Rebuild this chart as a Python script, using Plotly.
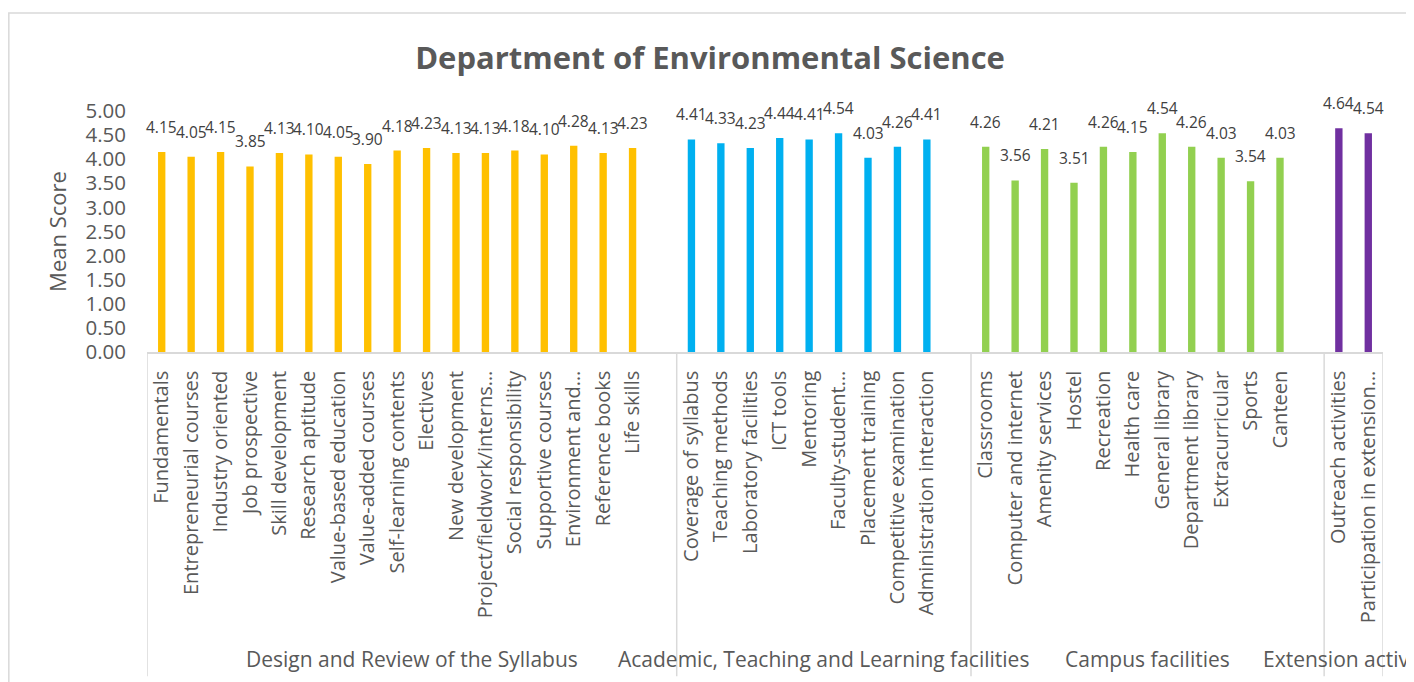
import plotly.graph_objects as go

# ---- data ----
groups = [
    "Design and Review of the Syllabus",
    "Academic, Teaching and Learning facilities",
    "Campus facilities",
    "Extension activities",
]
syllabus_items = [
    "Fundamentals", "Entrepreneurial courses", "Industry oriented", "Job prospective",
    "Skill development", "Research aptitude", "Value-based education", "Value-added courses",
    "Self-learning contents", "Electives", "New development", "Project/fieldwork/interns…",
    "Social responsibility", "Supportive courses", "Environment and…", "Reference books",
    "Life skills",
]
syllabus_scores = [4.15, 4.05, 4.15, 3.85, 4.13, 4.10, 4.05, 3.90, 4.18, 4.23, 4.13, 4.13,
                   4.18, 4.10, 4.28, 4.13, 4.23]
academic_items = [
    "Coverage of syllabus", "Teaching methods", "Laboratory facilities", "ICT tools",
    "Mentoring", "Faculty-student…", "Placement training", "Competitive examination",
    "Administration interaction",
]
academic_scores = [4.41, 4.33, 4.23, 4.44, 4.41, 4.54, 4.03, 4.26, 4.41]
campus_items = [
    "Classrooms", "Computer and internet", "Amenity services", "Hostel", "Recreation",
    "Health care", "General library", "Department library", "Extracurricular", "Sports",
    "Canteen",
]
campus_scores = [4.26, 3.56, 4.21, 3.51, 4.26, 4.15, 4.54, 4.26, 4.03, 3.54, 4.03]
extension_items = ["Outreach activities", "Participation in extension…"]
extension_scores = [4.64, 4.54]
y_ticks = [0, 0.5, 1.0, 1.5, 2.0, 2.5, 3.0, 3.5, 4.0, 4.5, 5.0]

colors = ["#FFC000", "#00B0F0", "#92D050", "#7030A0"]
group_items = [syllabus_items, academic_items, campus_items, extension_items]
group_scores = [syllabus_scores, academic_scores, campus_scores, extension_scores]

# category order with one empty slot after each of the first three groups
category_order = []
for gi, items in enumerate(group_items):
    category_order += items
    if gi < len(group_items) - 1:
        category_order.append(" " * (gi + 1))

FONT = "Open Sans"
TXT = "#595959"

fig = go.Figure()
for items, scores, col, name in zip(group_items, group_scores, colors, groups):
    fig.add_trace(go.Bar(x=items, y=scores, marker=dict(color=col, line=dict(width=0)),
                         width=0.25, name=name, showlegend=False))

annotations = []
for items, scores in zip(group_items, group_scores):
    for c, v in zip(items, scores):
        annotations.append(dict(x=c, y=v, xref="x", yref="y", text=f"{v:.2f}",
                                showarrow=False, yanchor="bottom", yshift=12,
                                font=dict(family=FONT, size=15.5, color="#404040")))

# group boundaries (category index positions) and label positions
bounds = []
pos = -0.5
centers = []
for gi, items in enumerate(group_items):
    start = pos
    pos += len(items) + (1 if gi < len(group_items) - 1 else 0)
    bounds.append(start)
    centers.append((start + pos) / 2)
bounds.append(pos)

shapes = []
for b in bounds:
    shapes.append(dict(type="line", xref="x", yref="paper", x0=b, x1=b, y0=0, y1=-1.345,
                       line=dict(color="#D9D9D9", width=1.5)))
# outer chart frame
shapes.append(dict(type="rect", xref="paper", yref="paper", x0=-0.1118, x1=1.0235,
                   y0=-1.6, y1=1.407, line=dict(color="#D9D9D9", width=1.5),
                   fillcolor="rgba(0,0,0,0)", layer="below"))

for gi, (g, cx) in enumerate(zip(groups, centers)):
    annotations.append(dict(x=cx, y=-1.272, xref="x", yref="paper", text=g,
                            showarrow=False, xanchor="center", yanchor="middle",
                            xshift=(2 if gi == 3 else 0),
                            font=dict(family=FONT, size=21, color=TXT)))

fig.update_layout(
    width=1414, height=682,
    margin=dict(l=139, r=39, t=103, b=338),
    paper_bgcolor="white", plot_bgcolor="white",
    barmode="overlay",
    title=dict(text="<b>Department of Environmental Science</b>", x=0.4965, xref="container",
               y=1 - 50 / 682, yref="container", xanchor="center", yanchor="middle",
               font=dict(family=FONT, size=31, color=TXT)),
    xaxis=dict(type="category", categoryorder="array", categoryarray=category_order,
               range=[-0.5, len(category_order) - 0.5],
               tickangle=-90, tickfont=dict(family=FONT, size=20, color=TXT),
               showline=True, linecolor="#D9D9D9", linewidth=1.5, ticks="",
               showgrid=False, ticklabelstandoff=9),
    yaxis=dict(range=[0, 5], tickvals=y_ticks, tickformat=".2f",
               tickfont=dict(family=FONT, size=20.5, color=TXT),
               showgrid=False, zeroline=False, showline=False, ticklabelstandoff=20,
               title=dict(text="Mean Score", standoff=12,
                          font=dict(family=FONT, size=22, color=TXT))),
    shapes=shapes,
    annotations=annotations,
)

fig.write_html("out.html")
